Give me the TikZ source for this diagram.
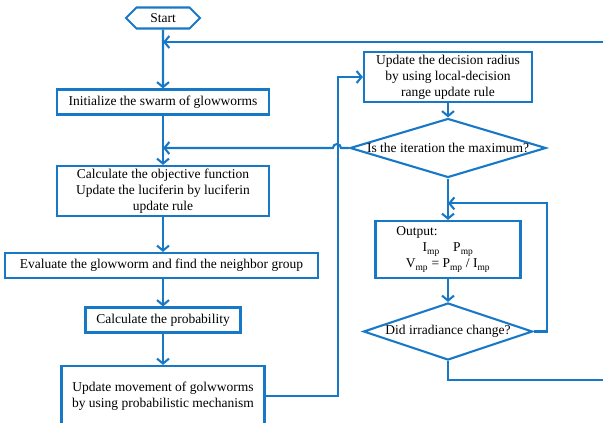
\documentclass[tikz,border=0pt]{standalone}
\usepackage{fontspec}
\setmainfont{Liberation Serif}
\usetikzlibrary{arrows.meta,shapes.geometric,shapes.symbols,calc}

\definecolor{flowblue}{RGB}{24,120,200}

\begin{document}
\begin{tikzpicture}[x=1pt,y=-1pt,
    every node/.style={font=\fontsize{13.5}{16}\selectfont},
    box/.style={draw=flowblue, line width=2.1pt, align=center, inner sep=2pt},
    decision/.style={draw=flowblue, line width=2.1pt, diamond, inner sep=0pt},
    termin/.style={draw=flowblue, line width=2.1pt, signal, signal to=west and east, signal pointer angle=90},
    arr/.style={flowblue, line width=2.1pt, -{Straight Barb[length=5pt,width=12pt]}},
    link/.style={flowblue, line width=2.1pt}]

    % Fix the picture size
    \useasboundingbox (0,0) rectangle (603,423);

    % Main column
    \node[termin, minimum width=74pt, minimum height=21pt] (start) at (163,18) {Start};
    \node[box, minimum width=212pt, minimum height=25pt] (init) at (163,102) {Initialize the swarm of glowworms};
    \node[box, minimum width=212pt, minimum height=50pt] (calc) at (163,191) {Calculate the objective function\\Update the luciferin by luciferin\\update rule};
    \node[box, minimum width=313pt, minimum height=25pt] (eval) at (161.5,265.5) {Evaluate the glowworm and find the neighbor group};
    \node[box, minimum width=155pt, minimum height=25pt] (prob) at (163,320) {Calculate the probability};
    \node[box, minimum width=203pt, minimum height=60pt] (move) at (163,396) {Update movement of golwworms\\by using probabilistic mechanism};

    % Right column
    \node[box, minimum width=168pt, minimum height=50pt] (radius) at (448,77) {Update the decision radius\\by using local-decision\\range update rule};
    \node[decision, minimum width=196pt, minimum height=59pt] (iter) at (448,148) {};
    \node (itertext) at (iter) {Is the iteration the maximum?};
    \node[box, minimum width=145pt, minimum height=57pt] (out) at (448,249.5) {Output:\hspace*{62pt}\\I\textsubscript{mp}\quad P\textsubscript{mp}\\V\textsubscript{mp} = P\textsubscript{mp} / I\textsubscript{mp}};
    \node[decision, minimum width=169pt, minimum height=57pt] (did) at (448,331.5) {};
    \node (didtext) at (did) {Did irradiance change?};

    % Loose ends at the right border
    \coordinate (topin) at (603,42);
    \coordinate (botout) at (603,380);

    % Connectors of the main column
    \draw[arr] (start) -- (init);
    \draw[arr] (topin) -- (topin -| init);
    \draw[arr] (init) -- (calc);
    \draw[arr] (iter.west) -- ++(-8,0) arc[start angle=0,end angle=180,radius=4pt] -- (iter.west -| init);
    \draw[arr] (calc) -- (eval.north -| calc);
    \draw[arr] (prob |- eval.south) -- (prob);
    \draw[arr] (prob) -- (move);
    \draw[arr] (move.east) -- ++(72,0) |- (radius.west);

    % Connectors of the right column
    \draw[arr] (radius) -- (iter);
    \draw[arr] (iter) -- (out);
    \draw[arr] (out) -- (did);
    \draw[arr] (did.east) -- ++(13,0) |- ($(iter.south)!0.6!(out.north)$);
    \draw[link] (did.south) |- (botout);

\end{tikzpicture}
\end{document}
